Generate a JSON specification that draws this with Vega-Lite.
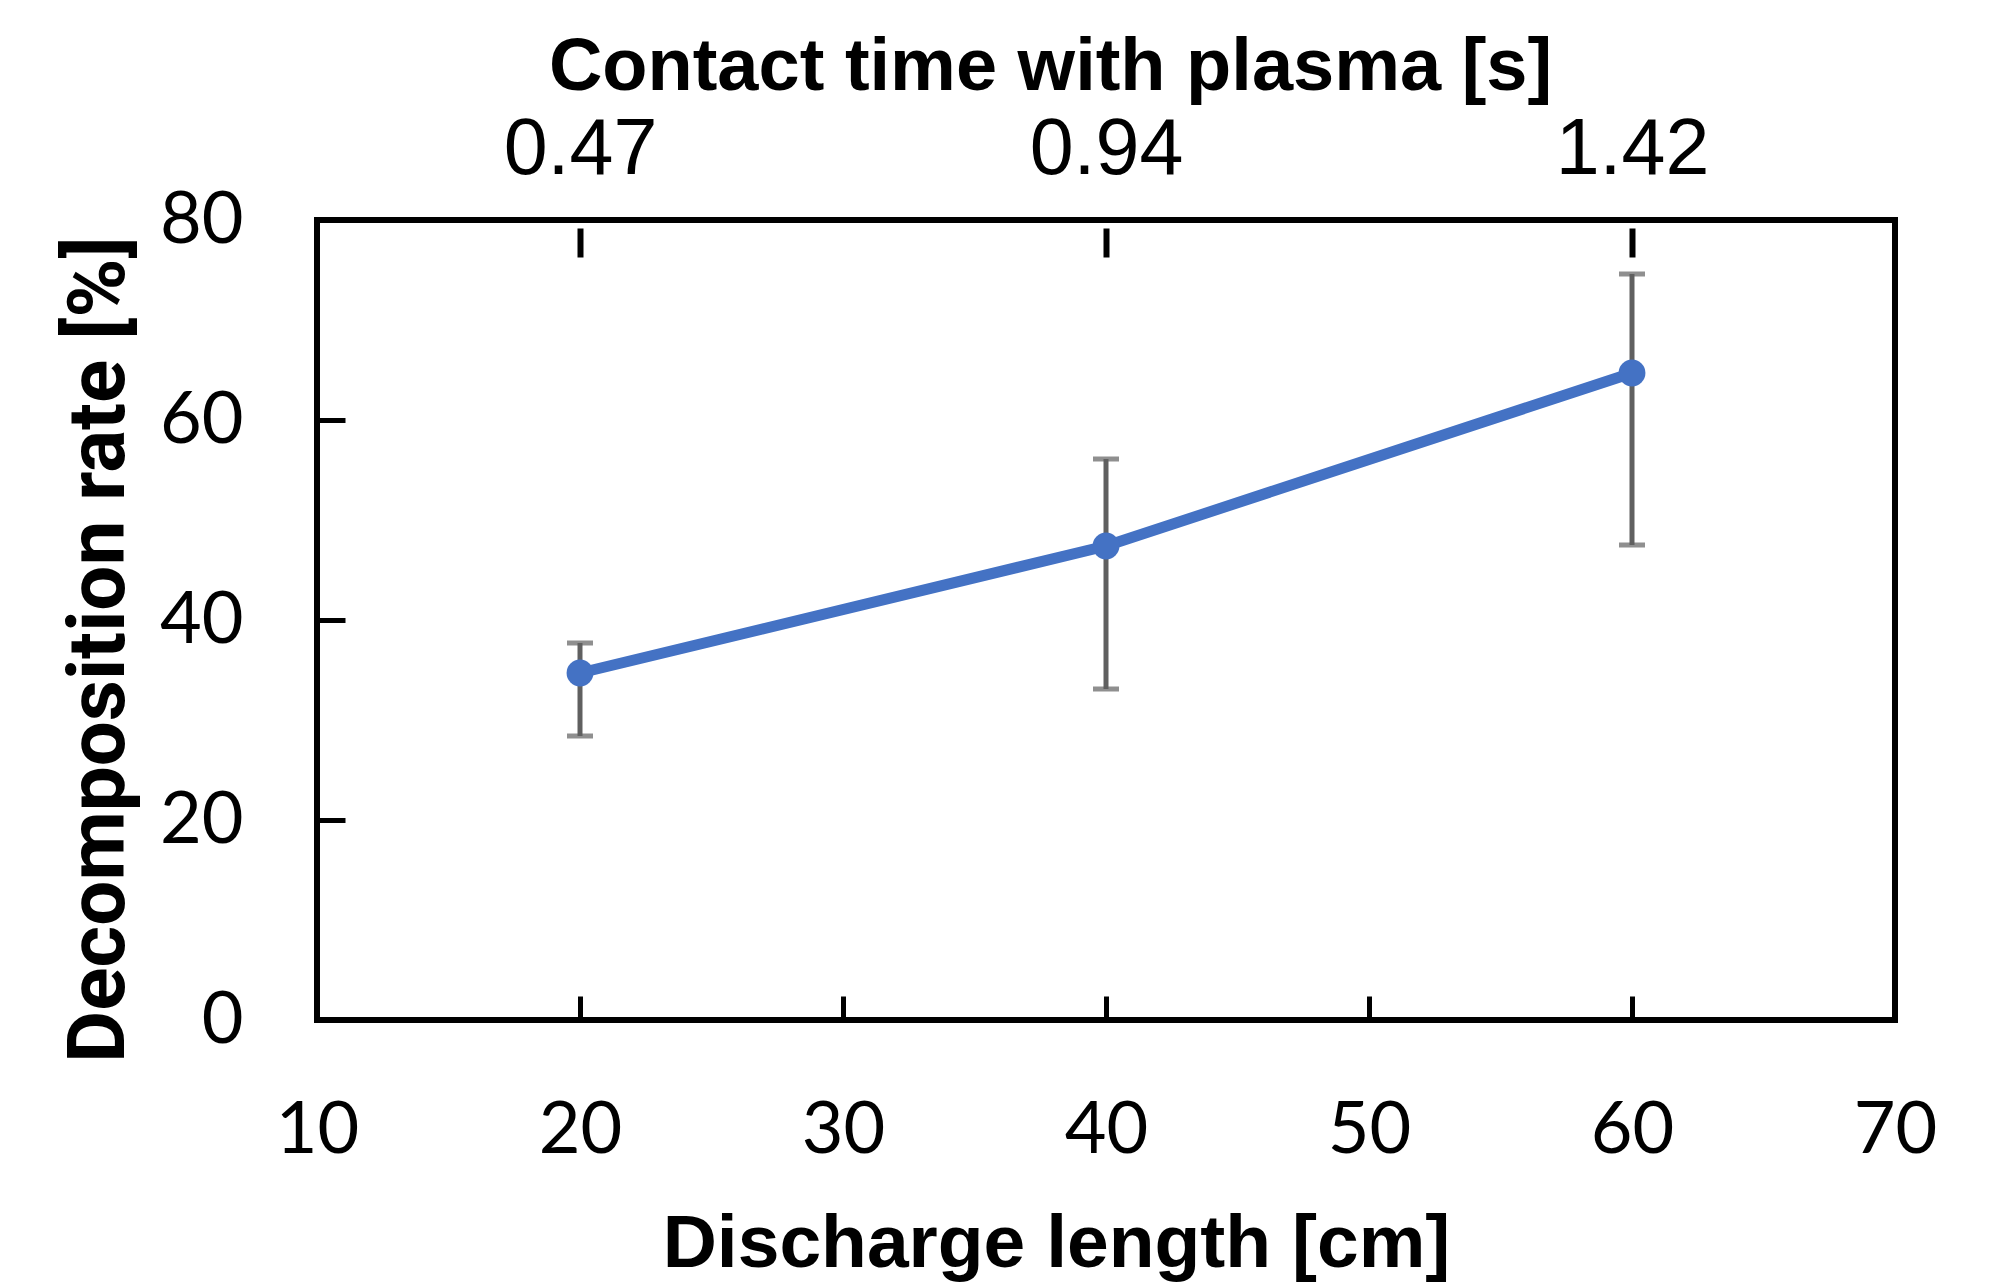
{
  "$schema": "https://vega.github.io/schema/vega-lite/v6.json",
  "width": 1578,
  "height": 800,
  "autosize": {"type": "none"},
  "padding": {"left": 317, "top": 220, "right": 96, "bottom": 265},
  "background": "white",
  "config": {"view": {"stroke": "black", "strokeWidth": 6}},
  "data": {"values": [
    {"length": 20, "time": 0.47, "rate": 34.7, "lo": 28.4, "hi": 37.7},
    {"length": 40, "time": 0.94, "rate": 47.4, "lo": 33.1, "hi": 56.1},
    {"length": 60, "time": 1.42, "rate": 64.7, "lo": 47.5, "hi": 74.6}
  ]},
  "resolve": {"axis": {"x": "independent", "y": "independent"}},
  "layer": [
    {
      "mark": {"type": "rule", "color": "#606060", "strokeWidth": 5},
      "encoding": {
        "x": {"field": "length", "type": "quantitative", "scale": {"domain": [10, 70], "nice": false, "zero": false},
          "axis": {"orient": "bottom", "values": [10, 20, 30, 40, 50, 60, 70], "ticks": false, "domain": false, "grid": false,
            "labelFont": "Lato", "labelFontSize": 72, "labelColor": "black", "labelBaseline": "alphabetic", "labelPadding": 132,
            "labelFlush": false, "labelOverlap": false,
            "title": "Discharge length [cm]", "titleFont": "Liberation Sans", "titleFontSize": 75, "titleFontWeight": "bold", "titleColor": "black",
            "titleX": 739, "titleY": 246, "titleBaseline": "alphabetic", "titleAlign": "center", "titleAnchor": null}},
        "y": {"field": "lo", "type": "quantitative", "scale": {"domain": [0, 80], "nice": false},
          "axis": {"orient": "left", "values": [0, 20, 40, 60, 80], "ticks": false, "domain": false, "grid": false,
            "labelFont": "Lato", "labelFontSize": 72, "labelColor": "black", "labelPadding": 74, "labelBaseline": "middle",
            "labelFlush": false, "labelOverlap": false,
            "title": "Decomposition rate [%]", "titleFont": "Roboto", "titleFontSize": 80, "titleFontWeight": "bold", "titleColor": "black",
            "titleX": -194, "titleY": 429, "titleBaseline": "alphabetic", "titleAngle": -90, "titleAlign": "center", "titleAnchor": null}},
        "y2": {"field": "hi"}
      }
    },
    {
      "mark": {"type": "tick", "color": "#606060", "size": 26, "thickness": 5, "orient": "horizontal"},
      "encoding": {
        "x": {"field": "length", "type": "quantitative",
          "axis": {"orient": "bottom", "values": [20, 30, 40, 50, 60], "ticks": true, "tickSize": -24, "tickWidth": 5, "tickColor": "black",
            "labels": false, "domain": false, "grid": false, "title": null}},
        "y": {"field": "lo", "type": "quantitative",
          "axis": {"orient": "left", "values": [20, 40, 60], "ticks": true, "tickSize": -28, "tickWidth": 5, "tickColor": "black",
            "labels": false, "domain": false, "grid": false, "title": null}}
      }
    },
    {
      "mark": {"type": "tick", "color": "#606060", "size": 26, "thickness": 5, "orient": "horizontal"},
      "encoding": {
        "x": {"field": "length", "type": "quantitative",
          "axis": {"orient": "top", "values": [20, 40, 60], "ticks": false, "domain": false, "grid": false,
            "labelExpr": "datum.value == 20 ? '0.47' : datum.value == 40 ? '0.94' : '1.42'",
            "labelFont": "Liberation Sans", "labelFontSize": 79, "labelColor": "black", "labelBaseline": "alphabetic", "labelPadding": 47,
            "labelFlush": false, "labelOverlap": false,
            "title": "Contact time with plasma [s]", "titleFont": "Liberation Sans", "titleFontSize": 74, "titleFontWeight": "bold", "titleColor": "black",
            "titleX": 733, "titleY": -131, "titleBaseline": "alphabetic", "titleAlign": "center", "titleAnchor": null}},
        "y": {"field": "hi", "type": "quantitative", "axis": null}
      }
    },
    {
      "mark": {"type": "line", "color": "#4472C4", "strokeWidth": 11},
      "encoding": {
        "x": {"field": "length", "type": "quantitative",
          "axis": {"orient": "top", "values": [20, 40, 60], "offset": -8, "ticks": true, "tickSize": -29, "tickWidth": 6, "tickColor": "black",
            "labels": false, "domain": false, "grid": false, "title": null}},
        "y": {"field": "rate", "type": "quantitative", "axis": null}
      }
    },
    {
      "mark": {"type": "point", "filled": true, "opacity": 1, "color": "#4472C4", "size": 720},
      "encoding": {
        "x": {"field": "length", "type": "quantitative", "axis": null},
        "y": {"field": "rate", "type": "quantitative", "axis": null}
      }
    }
  ]
}
